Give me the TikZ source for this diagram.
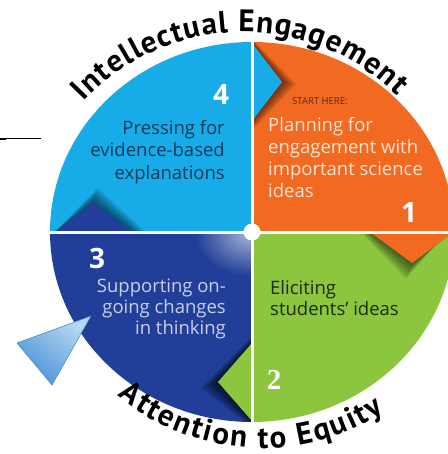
\documentclass[tikz,border=0pt]{standalone}
\usepackage{fontspec}
\setmainfont{Open Sans}
\newfontfamily\titlefam{PT Sans}
\newfontfamily\serifnum{Liberation Serif}
\usetikzlibrary{decorations.text,fadings}
\definecolor{cyanq}{HTML}{17ACE8}
\definecolor{orangeq}{HTML}{F26A22}
\definecolor{greenq}{HTML}{8CC63F}
\definecolor{blueq}{HTML}{213F99}
\definecolor{navytxt}{HTML}{0E3A5C}
\definecolor{peachtxt}{HTML}{FDE3D0}
\definecolor{lavtxt}{HTML}{C9CEEA}
\definecolor{greentxt}{HTML}{1E2A12}
\definecolor{starttxt}{HTML}{5B2A12}
\definecolor{lightA}{HTML}{B8D8F4}
\definecolor{lightB}{HTML}{4A93D6}
\definecolor{lightE}{HTML}{3F84C6}
\tikzfading[name=glowfade, inner color=transparent!0, outer color=transparent!100]
\tikzset{
  qtext/.style={inner sep=0pt, font=\fontsize{18.5}{22}\selectfont},
  qnum/.style={inner sep=0pt, text=white, font=\bfseries\fontsize{28}{28}\selectfont},
  shadowlayer/.style={fill=black, fill opacity=0.08},
}
\begin{document}
\begin{tikzpicture}[x=1pt,y=-1pt]
\useasboundingbox (0,0) rectangle (447,454);
% quadrants
\begin{scope}
  \clip (252,232) ellipse [x radius=202, y radius=190];
  \fill[cyanq] (0,0) rectangle (252,232);
  \fill[orangeq] (252,0) rectangle (460,232);
  \fill[greenq] (252,232) rectangle (460,454);
  \fill[blueq] (0,232) rectangle (252,454);
  % glow in quadrant 3
  \begin{scope}
    \clip (0,232) rectangle (252,454);
    \fill[white, path fading=glowfade, fill opacity=0.6] (250,234) ellipse [x radius=55, y radius=42];
  \end{scope}
  % shadows
  \begin{scope}
    \clip (252,0) rectangle (460,232);
    \foreach \k in {1,...,8}
      \fill[shadowlayer] (252,{43-0.5*\k}) -- ({282+1.8*\k},{82+0.3*\k}) -- (252,{121+1.2*\k}) -- cycle;
  \end{scope}
  \begin{scope}
    \clip (252,232) rectangle (460,454);
    \foreach \k in {1,...,8}
      \fill[shadowlayer] ({370-1.2*\k},232) -- ({412-0.8*\k},{263+2*\k}) -- ({454-\k},232) -- cycle;
  \end{scope}
  \begin{scope}
    \clip (0,232) rectangle (252,454);
    \foreach \k in {1,...,8}
      \fill[fill=black, fill opacity=0.11] (252,{343-0.8*\k}) -- ({218-2.2*\k},{382+0.8*\k}) -- (252,{421+0.8*\k}) -- cycle;
  \end{scope}
  \begin{scope}
    \clip (0,0) rectangle (252,232);
    \foreach \k in {1,...,8}
      \fill[shadowlayer] (55,232) -- ({93+0.6*\k},{202-1.8*\k}) -- ({133+1.6*\k},232) -- cycle;
  \end{scope}
  % chevrons
  \fill[cyanq] (252,43) -- (282,82) -- (252,121) -- cycle;
  \fill[orangeq] (370,232) -- (412,263) -- (454,232) -- cycle;
  \fill[greenq] (252,343) -- (218,382) -- (252,421) -- cycle;
  \fill[blueq] (55,232) -- (93,202) -- (133,232) -- cycle;
  % dividing lines
  \draw[white, line width=3pt] (252,30) -- (252,440);
  \draw[white, line width=3pt] (40,232) -- (460,232);
\end{scope}
\node[circle, fill=white, minimum size=17pt, inner sep=0pt] (hub) at (252,232) {};
% light blue pointer
\shade[top color=lightA, bottom color=lightB, shading angle=-40, draw=lightE, line width=0.5pt]
  (17,343) -- (91,316) -- (52,385) -- cycle;
% short rule at top left
\coordinate (ruleA) at (0,139);
\coordinate (ruleB) at (41,139);
\draw[line width=1pt] (ruleA) -- (ruleB);
\draw[line width=2pt] (ruleA) -- ++(6,0);
% arc titles
\path[decorate, decoration={text along path, text align=fit to path,
  text={|\titlefam\bfseries\fontsize{31}{31}\selectfont|Intellectual Engagement}}]
  (243,250) ++(-137:218) arc[start angle=-137, end angle=-45, radius=218];
\path[decorate, decoration={text along path, text align=fit to path,
  text={|\titlefam\bfseries\fontsize{31}{31}\selectfont|Attention to Equity}}]
  (262,224) ++(130:224) arc[start angle=130, end angle=57, radius=224];
% quadrant texts
\node[qnum] (n4) at (221,95) {4};
\node[qtext, text=navytxt, align=right, anchor=base east] (t4) at (225,179)
  {Pressing for\\evidence-based\\explanations};
\node[inner sep=0pt, text=starttxt, anchor=base west, font=\fontsize{9.5}{10}\selectfont] (start) at (292,105) {START HERE:};
\node[qtext, text=peachtxt, align=left, anchor=base west, font=\fontsize{18.5}{21.7}\selectfont] (t1) at (268,197)
  {Planning for\\engagement with\\important science\\ideas};
\node[qnum] (n1) at (409,213) {1};
\node[qnum] (n3) at (97,258) {3};
\node[qtext, text=lavtxt, align=right, anchor=base east, font=\fontsize{18.5}{21}\selectfont] (t3) at (226,334)
  {Supporting on-\\going changes\\in thinking};
\node[qtext, text=greentxt, align=left, anchor=base west, font=\fontsize{18.5}{21}\selectfont] (t2) at (270,315)
  {Eliciting\\students’ ideas};
\node[qnum, font=\serifnum\bfseries\fontsize{29}{29}\selectfont] (n2) at (274,380) {2};
\end{tikzpicture}
\end{document}
